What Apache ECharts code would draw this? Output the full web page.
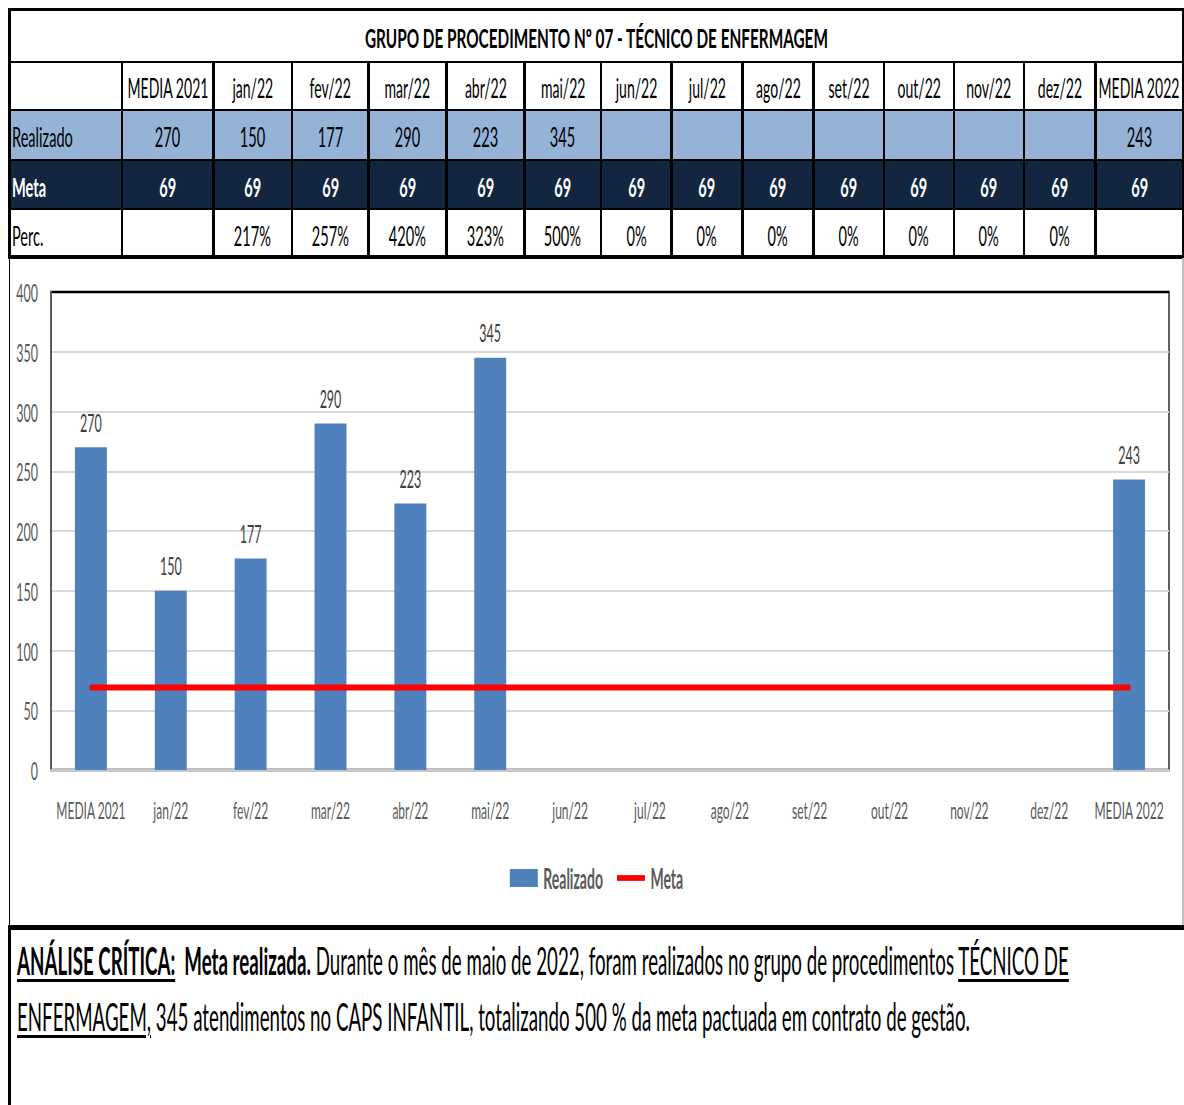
<!DOCTYPE html>
<html>
<head>
<meta charset="utf-8">
<script src="https://cdn.jsdelivr.net/npm/echarts@6/dist/echarts.min.js"></script>
<style>
  html, body { margin: 0; padding: 0; background: #fff; width: 1184px; height: 1105px; overflow: hidden; }
  body { position: relative; font-family: Lato, 'Liberation Sans', sans-serif; }
  .box { position: absolute; box-sizing: border-box; }
  .cell { position: absolute; box-sizing: border-box; display: flex; align-items: center; justify-content: center; white-space: nowrap; padding-top: 3px; }
  .cell.left { justify-content: flex-start; padding-left: 3px; }
  .cell span { display: inline-block; }
  .line { position: absolute; white-space: nowrap; font-size: 38px; line-height: 38px; color: #000; transform-origin: 0 0; }
  .line u { text-decoration-thickness: 3px; text-underline-offset: 4px; }
</style>
</head>
<body>
<div id="table"></div>
<div id="chartWrap" class="box" style="left:10px; top:259px; width:1173px; height:666px; overflow:hidden;">
  <div id="chart" style="transform-origin:0 0;"></div>
</div>
<div id="analysis">
  <div class="line" id="l1" style="left:17px; top:941px;"><b><u>ANÁLISE CRÍTICA:</u>&nbsp;&nbsp;Meta realizada.</b> Durante o mês de maio de 2022, foram realizados no grupo de procedimentos <u>TÉCNICO DE</u></div>
  <div class="line" id="l2" style="left:17px; top:997px;"><u>ENFERMAGEM,</u> 345 atendimentos no CAPS INFANTIL, totalizando 500 % da meta pactuada em contrato de gestão.</div>
</div>
<script>
// ---- data ----
const title = 'GRUPO DE PROCEDIMENTO Nº 07 - TÉCNICO DE ENFERMAGEM';
const categories = ['MEDIA 2021', 'jan/22', 'fev/22', 'mar/22', 'abr/22', 'mai/22', 'jun/22',
                    'jul/22', 'ago/22', 'set/22', 'out/22', 'nov/22', 'dez/22', 'MEDIA 2022'];
const realizado = [270, 150, 177, 290, 223, 345, null, null, null, null, null, null, null, 243];
const meta = [69, 69, 69, 69, 69, 69, 69, 69, 69, 69, 69, 69, 69, 69];
const perc = ['', '217%', '257%', '420%', '323%', '500%', '0%', '0%', '0%', '0%', '0%', '0%', '0%', ''];
const yTicks = { min: 0, max: 400, step: 50 };

// ---- table layout ----
const S_TABLE = 0.54;   // horizontal squeeze of the table lettering
const S_TITLE = 0.59;
const colEdges = [9, 122, 213.5, 292, 368.5, 446.5, 524.5, 601, 671.5, 742.5, 813.5, 884, 954, 1024, 1095.5, 1183];
const rowEdges = [10, 62, 110, 160, 209, 256];
const tableEl = document.getElementById('table');

function addBox(x, y, w, h, bg) {
  const d = document.createElement('div');
  d.className = 'box';
  d.style.cssText = `left:${x}px;top:${y}px;width:${w}px;height:${h}px;background:${bg};`;
  tableEl.appendChild(d);
  return d;
}
function addCell(x0, x1, y0, y1, text, style, left, squeeze) {
  const d = document.createElement('div');
  d.className = 'cell' + (left ? ' left' : '');
  d.style.cssText = `left:${x0}px;top:${y0}px;width:${x1 - x0}px;height:${y1 - y0}px;` + style;
  const s = document.createElement('span');
  s.textContent = text;
  s.style.transform = `scaleX(${squeeze || S_TABLE})`;
  if (left) s.style.transformOrigin = '0 50%';
  d.appendChild(s);
  tableEl.appendChild(d);
}

// row fills
addBox(9, rowEdges[2], 1174, rowEdges[3] - rowEdges[2], '#95B3D7');
addBox(9, rowEdges[3], 1174, rowEdges[4] - rowEdges[3], '#13263F');

// title
addCell(9, 1183, rowEdges[0], rowEdges[1], title, 'font-size:26px;font-weight:700;color:#000;', false, S_TITLE);

// header / data rows
const rowDefs = [
  { label: '', values: categories, style: 'font-size:26px;color:#000;' },
  { label: 'Realizado', values: realizado.map(v => v == null ? '' : String(v)), style: 'font-size:27px;color:#000;' },
  { label: 'Meta', values: meta.map(String), style: 'font-size:27px;font-weight:700;color:#fff;' },
  { label: 'Perc.', values: perc, style: 'font-size:27px;color:#000;padding-top:6px;' }
];
rowDefs.forEach((r, i) => {
  const y0 = rowEdges[i + 1], y1 = rowEdges[i + 2];
  addCell(colEdges[0], colEdges[1], y0, y1, r.label, r.style, true);
  r.values.forEach((v, c) => addCell(colEdges[c + 1], colEdges[c + 2], y0, y1, v, r.style));
});

// grid lines of the table
[[8, 3], [60.5, 2.5], [108.5, 2.5], [158.5, 2.5], [207.5, 2.5]].forEach(([y, h]) => addBox(8, y, 1176, h, '#000'));
addBox(8, 254.5, 1176, 4.5, '#000');
addBox(8, 8, 3, 250, '#000');
addBox(1181.5, 8, 2.5, 250, '#000');
colEdges.slice(1, -1).forEach(x => addBox(x - 1.25, 61, 2.5, 196, '#000'));

// chart frame and lower section frame
addBox(8.5, 258, 1.5, 670, '#000');
addBox(1182, 258, 1.5, 670, '#BFBFBF');
addBox(8, 925, 1176, 4.5, '#000');
addBox(7.5, 928, 3, 177, '#000');

// ---- analysis text: squeeze both lines by one common factor ----
const l1 = document.getElementById('l1'), l2 = document.getElementById('l2');
const sText = (1069 - 17) / l1.scrollWidth;
l1.style.transform = `scaleX(${sText})`;
l2.style.transform = `scaleX(${sText})`;

// ---- chart ----
const S_C = 0.5;  // horizontal squeeze of the chart lettering
const wrapW = 1173, wrapH = 666;
const chartW = wrapW / S_C;
const chartEl = document.getElementById('chart');
chartEl.style.width = chartW + 'px';
chartEl.style.height = wrapH + 'px';
chartEl.style.transform = `scaleX(${S_C})`;

// split lines: light grey, the top one doubles as the black frame edge
const nLines = (yTicks.max - yTicks.min) / yTicks.step + 1;
const splitColors = Array.from({ length: nLines }, (_, i) => i === nLines - 1 ? '#000' : '#D9D9D9');

const chart = echarts.init(chartEl, null, { renderer: 'svg', width: chartW, height: wrapH });
chart.setOption({
  animation: false,
  textStyle: { fontFamily: 'Lato, "Liberation Sans", sans-serif' },
  grid: {
    left: 41 / S_C, right: 14 / S_C, top: 33, bottom: 155,
    show: true, borderColor: '#000', borderWidth: 2.5, containLabel: false
  },
  legend: {
    top: 600, left: 'center',
    itemWidth: 28 / S_C, itemHeight: 18, itemGap: 14 / S_C,
    textStyle: { fontSize: 28, fontWeight: 'bold', color: '#595959', padding: [0, 0, 0, 6] },
    data: [
      { name: 'Realizado', icon: 'rect' },
      { name: 'Meta', icon: 'path://M0,0h97v10h-97z', itemStyle: { color: '#FF0000' } }
    ]
  },
  xAxis: {
    type: 'category', data: categories,
    axisTick: { show: false },
    axisLine: { lineStyle: { color: '#C8C8C8', width: 3 } },
    axisLabel: { color: '#595959', fontSize: 24, margin: 27, interval: 0 }
  },
  yAxis: {
    type: 'value', min: yTicks.min, max: yTicks.max, interval: yTicks.step,
    axisLine: { show: true, lineStyle: { color: '#595959', width: 1.5 / S_C } },
    axisTick: { show: false },
    splitLine: { lineStyle: { color: splitColors, width: 2 } },
    axisLabel: { color: '#595959', fontSize: 25, margin: 13 / S_C }
  },
  series: [
    {
      name: 'Realizado', type: 'bar', data: realizado, barWidth: '40%',
      itemStyle: { color: '#4F81BD' },
      label: { show: true, position: 'top', distance: 13, color: '#404040', fontSize: 25 }
    },
    {
      name: 'Meta', type: 'line', data: meta, symbol: 'none', z: 3,
      lineStyle: { color: '#FF0000', width: 6, cap: 'round' },
      itemStyle: { color: '#FF0000' }
    }
  ]
});
</script>
</body>
</html>
